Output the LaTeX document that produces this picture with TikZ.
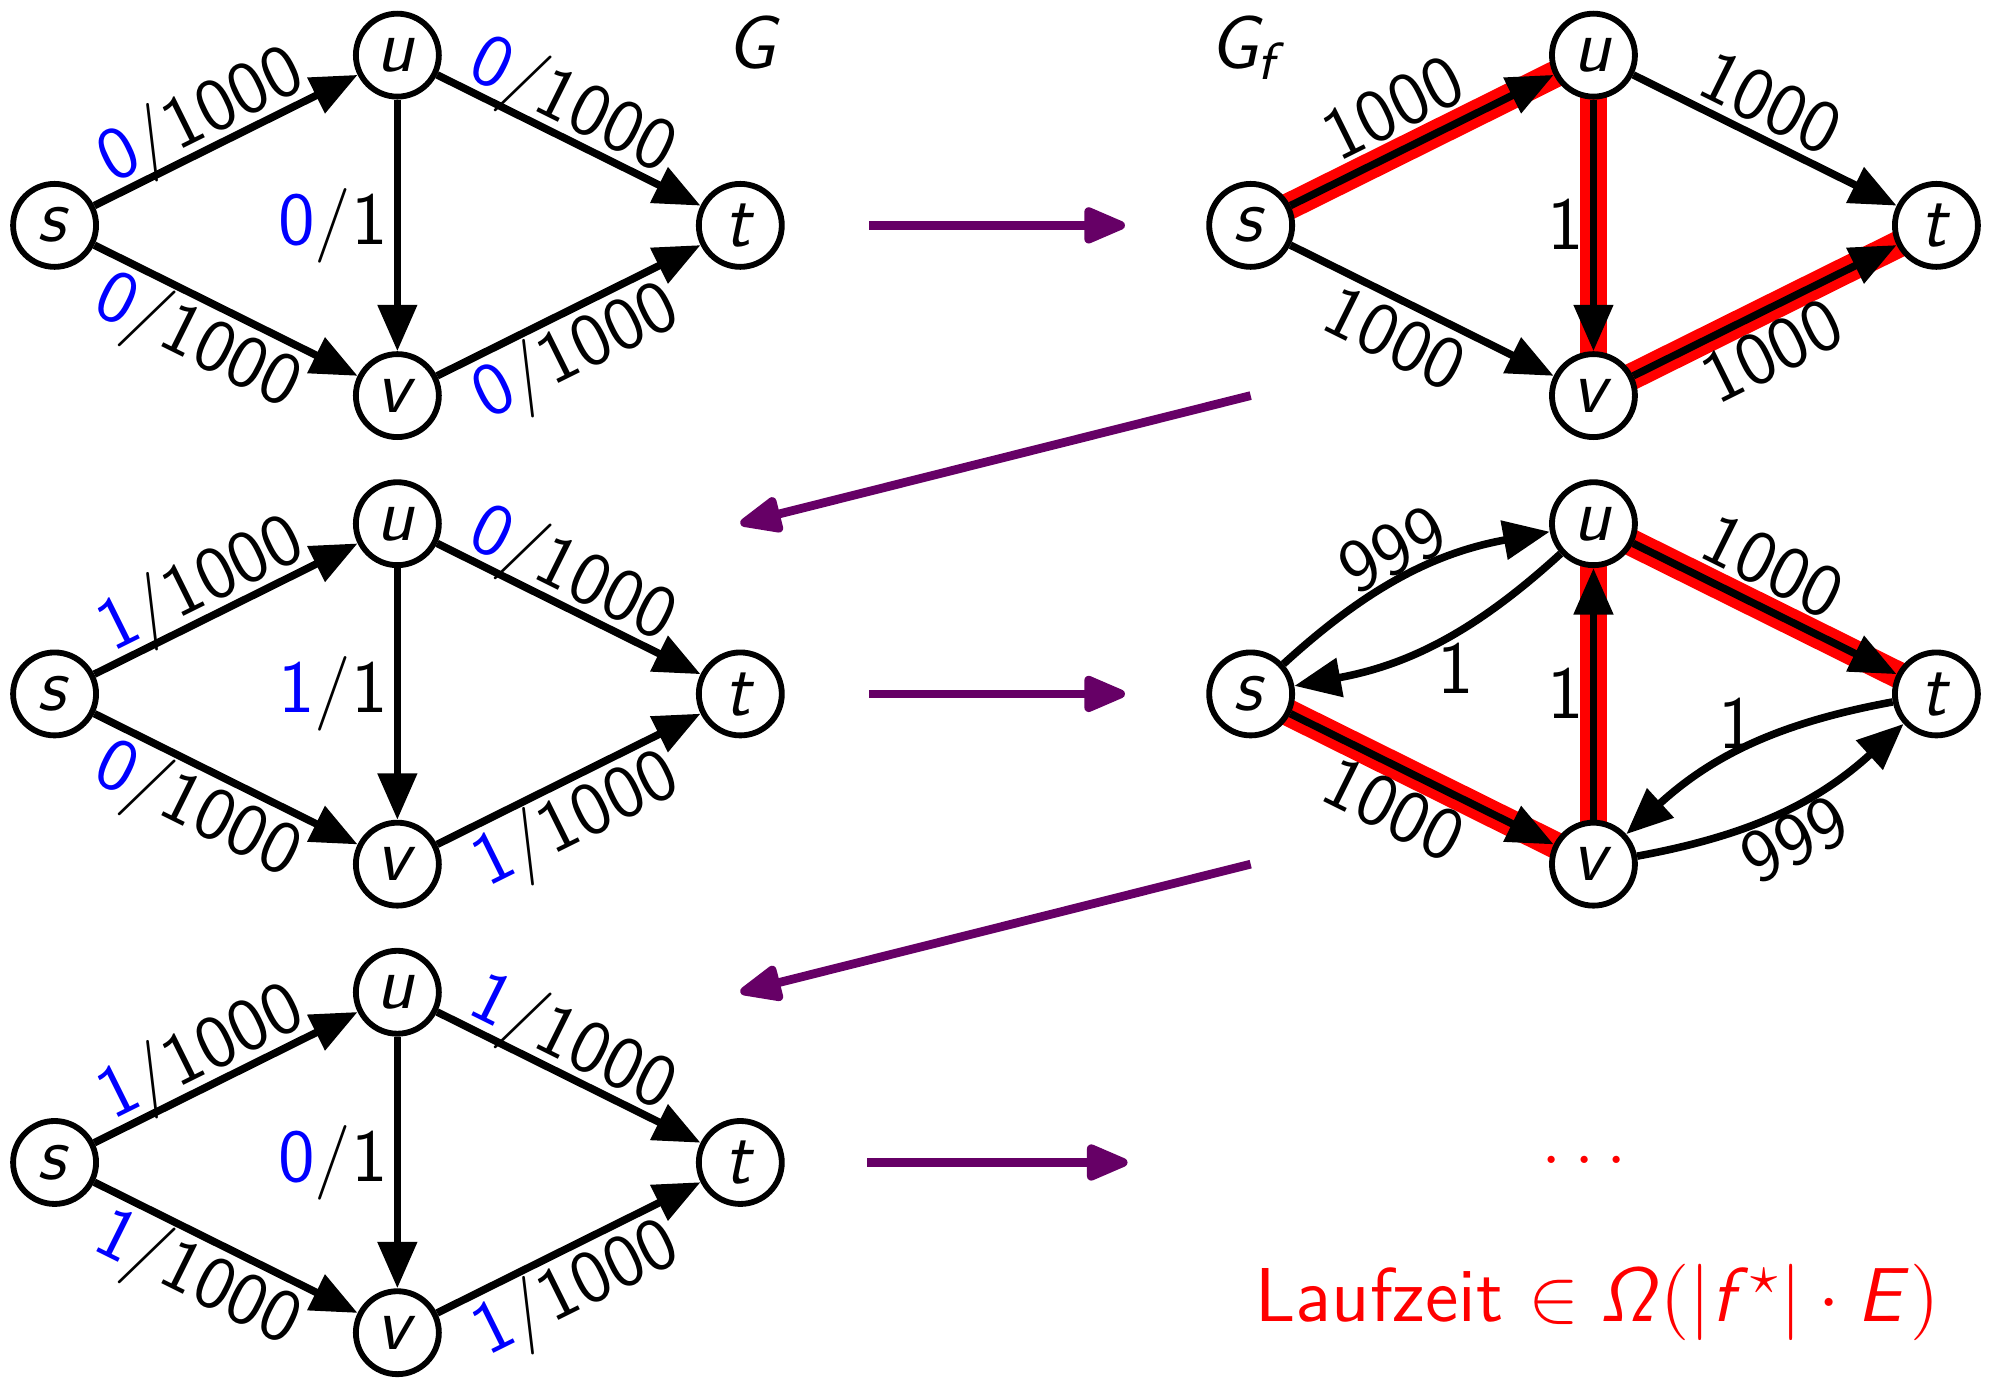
\RequirePackage{fix-cm}
\documentclass[tikz,border=0pt]{standalone}
\usetikzlibrary{arrows.meta}
\pgfdeclarelayer{bg}
\pgfsetlayers{bg,main}
\DeclareMathAlphabet{\mathsfsl}{OT1}{cmss}{m}{sl}
\newcommand{\vname}[1]{$\mathsfsl{#1}$}
\newcommand{\flowcap}[2]{$\mathsf{\textcolor{flowblue}{#1}}/\mathsf{#2}$}

\begin{document}
\begin{tikzpicture}[
  font=\fontsize{12.8}{15}\selectfont\sffamily,
  vertex/.style={circle, draw, line width=1pt, fill=white, minimum size=0.5cm, inner sep=0pt},
  flow/.style={line width=1.3pt, -{Triangle[length=0.28cm,width=0.23cm]}},
  augment/.style={red, line width=4.6pt},
  progress/.style={draw=arrowpurple, line width=1.5pt, -{Triangle[round,length=0.29cm,width=0.23cm]}},
  lbl/.style={inner sep=1pt},
  over/.style={sloped, pos=0.46, anchor=base, yshift=2pt},
  under/.style={sloped, pos=0.46, anchor=base, yshift=-10.5pt},
  overhl/.style={over, yshift=1pt},
  underhl/.style={under, yshift=-0.5pt}
]

% Define colors
\definecolor{arrowpurple}{RGB}{102, 0, 102}
\definecolor{flowblue}{RGB}{0, 0, 255}

\useasboundingbox (0, 0) rectangle (12, 8.2994);

% Network G with flow 0
\begin{scope}[shift={(0.329, 6.941)}]
\node[vertex] (sa) at (0, 0) {\vname{s}};
\node[vertex] (ua) at (2.066, 1.026) {\vname{u}};
\node[vertex] (va) at (2.066, -1.026) {\vname{v}};
\node[vertex] (ta) at (4.133, 0) {\vname{t}};
\draw[flow] (sa) -- node[over] {\flowcap{0}{1000}} (ua);
\draw[flow] (ua) -- node[over] {\flowcap{0}{1000}} (ta);
\draw[flow] (sa) -- node[under] {\flowcap{0}{1000}} (va);
\draw[flow] (va) -- node[under] {\flowcap{0}{1000}} (ta);
\draw[flow] (ua) -- node[lbl, left] {\flowcap{0}{1}} (va);
\end{scope}

% Residual network, first path s-u-v-t
\begin{scope}[shift={(7.538, 6.941)}]
\node[vertex] (sb) at (0, 0) {\vname{s}};
\node[vertex] (ub) at (2.066, 1.026) {\vname{u}};
\node[vertex] (vb) at (2.066, -1.026) {\vname{v}};
\node[vertex] (tb) at (4.133, 0) {\vname{t}};
\begin{pgfonlayer}{bg}
\draw[augment] (sb.center) -- (ub.center) -- (vb.center) -- (tb.center);
\end{pgfonlayer}
\draw[flow] (sb) -- node[overhl] {$\mathsf{1000}$} (ub);
\draw[flow] (ub) -- node[over] {$\mathsf{1000}$} (tb);
\draw[flow] (sb) -- node[under] {$\mathsf{1000}$} (vb);
\draw[flow] (vb) -- node[underhl] {$\mathsf{1000}$} (tb);
\draw[flow] (ub) -- node[lbl, left] {$\mathsf{1}$} (vb);
\end{scope}

% Network G with flow 1
\begin{scope}[shift={(0.329, 4.117)}]
\node[vertex] (sc) at (0, 0) {\vname{s}};
\node[vertex] (uc) at (2.066, 1.026) {\vname{u}};
\node[vertex] (vc) at (2.066, -1.026) {\vname{v}};
\node[vertex] (tc) at (4.133, 0) {\vname{t}};
\draw[flow] (sc) -- node[over] {\flowcap{1}{1000}} (uc);
\draw[flow] (uc) -- node[over] {\flowcap{0}{1000}} (tc);
\draw[flow] (sc) -- node[under] {\flowcap{0}{1000}} (vc);
\draw[flow] (vc) -- node[under] {\flowcap{1}{1000}} (tc);
\draw[flow] (uc) -- node[lbl, left] {\flowcap{1}{1}} (vc);
\end{scope}

% Residual network, second path s-v-u-t
\begin{scope}[shift={(7.538, 4.117)}]
\node[vertex] (sd) at (0, 0) {\vname{s}};
\node[vertex] (ud) at (2.066, 1.026) {\vname{u}};
\node[vertex] (vd) at (2.066, -1.026) {\vname{v}};
\node[vertex] (td) at (4.133, 0) {\vname{t}};
\begin{pgfonlayer}{bg}
\draw[augment] (sd.center) -- (vd.center) -- (ud.center) -- (td.center);
\end{pgfonlayer}
\draw[flow] (sd) to[bend left=16] node[over, pos=0.5, yshift=-1pt] {$\mathsf{999}$} (ud);
\draw[flow] (ud) to[bend left=16] node[lbl, below, xshift=3pt, yshift=1pt] {$\mathsf{1}$} (sd);
\draw[flow] (ud) -- node[overhl] {$\mathsf{1000}$} (td);
\draw[flow] (sd) -- node[underhl] {$\mathsf{1000}$} (vd);
\draw[flow] (vd) -- node[lbl, left] {$\mathsf{1}$} (ud);
\draw[flow] (td) to[bend right=16] node[lbl, above, xshift=-2pt, yshift=-2pt] {$\mathsf{1}$} (vd);
\draw[flow] (vd) to[bend right=16] node[under, pos=0.5, yshift=1pt] {$\mathsf{999}$} (td);
\end{scope}

% Network G with flow 2
\begin{scope}[shift={(0.329, 1.293)}]
\node[vertex] (se) at (0, 0) {\vname{s}};
\node[vertex] (ue) at (2.066, 1.026) {\vname{u}};
\node[vertex] (ve) at (2.066, -1.026) {\vname{v}};
\node[vertex] (te) at (4.133, 0) {\vname{t}};
\draw[flow] (se) -- node[over] {\flowcap{1}{1000}} (ue);
\draw[flow] (ue) -- node[over] {\flowcap{1}{1000}} (te);
\draw[flow] (se) -- node[under] {\flowcap{1}{1000}} (ve);
\draw[flow] (ve) -- node[under] {\flowcap{1}{1000}} (te);
\draw[flow] (ue) -- node[lbl, left] {\flowcap{0}{1}} (ve);
\end{scope}

% Titles
\node (glabel) at (4.553, 8.043) {$\mathsfsl{G}$};
\node (gflabel) at (7.53, 8.01) {$\mathsfsl{G}_{\mathsfsl{f}}$};

% Arrows between the steps
\draw[progress, shorten <=0.51cm, shorten >=0.49cm] (ta) -- (sb);
\draw[progress, shorten <=0.51cm, shorten >=0.49cm] (tc) -- (sd);
\draw[progress, shorten <=0.765cm, shorten >=0.742cm] (te.center) -- (sd |- se);
\draw[progress] (sb |- vb) -- (tc |- uc);
\draw[progress] (sd |- vd) -- (te |- ue);

% Add the bottom text
\node[red] (dots) at (9.55, 1.31) {$\ldots$};
\node[red] (runtime) at (9.63, 0.45) {\fontsize{13.1}{16}\selectfont Laufzeit $\in \mathsfsl{\Omega}(|\mathsfsl{f}^\star| \cdot \mathsfsl{E})$};

\end{tikzpicture}
\end{document}
